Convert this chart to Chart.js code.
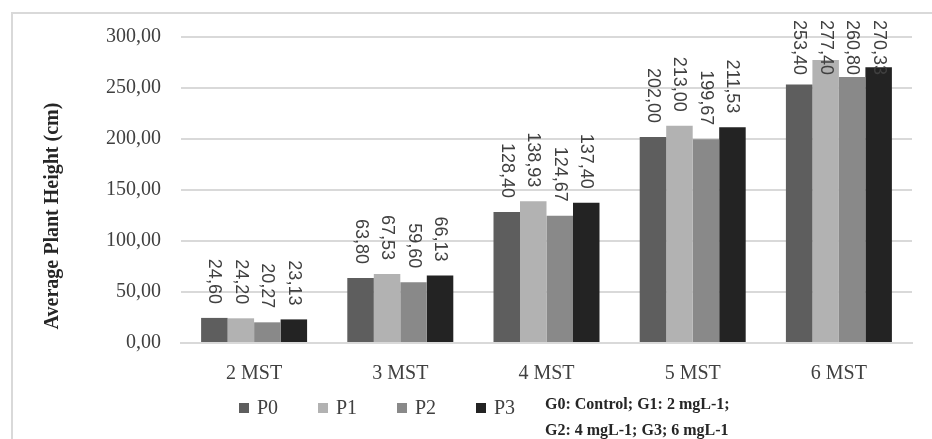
<!DOCTYPE html>
<html>
<head>
<meta charset="utf-8">
<script src="https://cdn.jsdelivr.net/npm/chart.js@4.4.0/dist/chart.umd.min.js"></script>
<style>
    html, body { margin: 0; padding: 0; background: #fff; }
    #contenedor { position: relative; width: 932px; height: 439px; }
</style>
</head>
<body>
<div id="contenedor"><canvas id="grafico-altura"></canvas></div>
<script>
// Datos: altura media de la planta por mes y tratamiento
const categorias = ["2 MST", "3 MST", "4 MST", "5 MST", "6 MST"];
const series = ["P0", "P1", "P2", "P3"];
const valoresP0 = [24.60, 63.80, 128.40, 202.00, 253.40];
const valoresP1 = [24.20, 67.53, 138.93, 213.00, 277.40];
const valoresP2 = [20.27, 59.60, 124.67, 199.67, 260.80];
const valoresP3 = [23.13, 66.13, 137.40, 211.53, 270.33];
const colores = ["#5e5e5e", "#b2b2b2", "#898989", "#232323"];
const ejeMin = 0, ejeMax = 300, ejePaso = 50;
const tituloY = "Average Plant Height (cm)";
const nota = ["G0: Control; G1: 2 mgL-1;", "G2: 4 mgL-1; G3; 6 mgL-1"];

const serif = '"Liberation Serif", "Times New Roman", serif';
const sans = '"Liberation Sans", Arial, sans-serif';

// número con coma decimal: 24.6 -> "24,60"
function formato(v) {
    return v.toFixed(2).replace(".", ",");
}

const datasets = [valoresP0, valoresP1, valoresP2, valoresP3].map((vals, i) => ({
    label: series[i],
    data: vals,
    backgroundColor: colores[i],
    borderWidth: 0,
    categoryPercentage: 0.725,
    barPercentage: 1.0
}));

// marco, título del eje, etiquetas de valor, leyenda y nota
const extras = {
    id: "extras",
    beforeDraw(chart) {
        const ctx = chart.ctx;
        ctx.save();
        ctx.strokeStyle = "#d9d9d9";
        ctx.lineWidth = 2;
        ctx.beginPath();
        ctx.moveTo(12, 439);
        ctx.lineTo(12, 13);
        ctx.lineTo(932, 13);
        ctx.stroke();
        ctx.restore();
    },
    afterDatasetsDraw(chart) {
        const ctx = chart.ctx;
        ctx.save();
        ctx.font = "18px " + sans;
        ctx.fillStyle = "#404040";
        ctx.textAlign = "left";
        ctx.textBaseline = "middle";
        chart.data.datasets.forEach((ds, i) => {
            chart.getDatasetMeta(i).data.forEach((barra, j) => {
                const txt = formato(ds.data[j]);
                const w = ctx.measureText(txt).width;
                let arriba = barra.y - 14 - w;
                if (arriba < 20) arriba = 20;
                ctx.save();
                ctx.translate(barra.x, arriba);
                ctx.rotate(Math.PI / 2);
                ctx.fillText(txt, 0, 0);
                ctx.restore();
            });
        });
        ctx.restore();
    },
    afterDraw(chart) {
        const ctx = chart.ctx;
        ctx.save();
        // título eje Y
        ctx.font = "bold 20px " + serif;
        ctx.fillStyle = "#262626";
        ctx.textAlign = "center";
        ctx.textBaseline = "middle";
        ctx.translate(53, 216);
        ctx.rotate(-Math.PI / 2);
        ctx.fillText(tituloY, 0, 0);
        ctx.restore();

        // leyenda
        ctx.save();
        ctx.font = "20px " + serif;
        ctx.textAlign = "left";
        ctx.textBaseline = "middle";
        chart.data.datasets.forEach((ds, i) => {
            const x = 239 + i * 79;
            ctx.fillStyle = ds.backgroundColor;
            ctx.fillRect(x, 403, 10, 10);
            ctx.fillStyle = "#404040";
            ctx.fillText(ds.label, x + 18, 409);
        });

        // nota de tratamientos
        ctx.font = "bold 16px " + serif;
        ctx.fillStyle = "#262626";
        ctx.fillText(nota[0], 545, 405);
        ctx.fillText(nota[1], 545, 431);
        ctx.restore();
    }
};

const ctx = document.getElementById("grafico-altura").getContext("2d");
new Chart(ctx, {
    type: "bar",
    data: {
        labels: categorias,
        datasets: datasets
    },
    options: {
        responsive: true,
        maintainAspectRatio: false,
        animation: false,
        layout: {
            padding: { left: 0, right: 20, top: 37, bottom: 0 }
        },
        plugins: {
            legend: { display: false },
            tooltip: { enabled: false }
        },
        scales: {
            x: {
                grid: { display: false },
                border: { display: true, color: "#d9d9d9", width: 2 },
                ticks: {
                    color: "#404040",
                    font: { family: serif, size: 20 },
                    padding: 11,
                    maxRotation: 0
                },
                afterFit(scale) { scale.height = 96; }
            },
            y: {
                min: ejeMin,
                max: ejeMax,
                ticks: {
                    stepSize: ejePaso,
                    color: "#404040",
                    font: { family: serif, size: 20 },
                    padding: 20,
                    callback: v => formato(v)
                },
                grid: { color: "#d9d9d9", lineWidth: 2, drawTicks: false },
                border: { display: false },
                afterFit(scale) { scale.width = 181; }
            }
        }
    },
    plugins: [extras]
});
</script>
</body>
</html>
